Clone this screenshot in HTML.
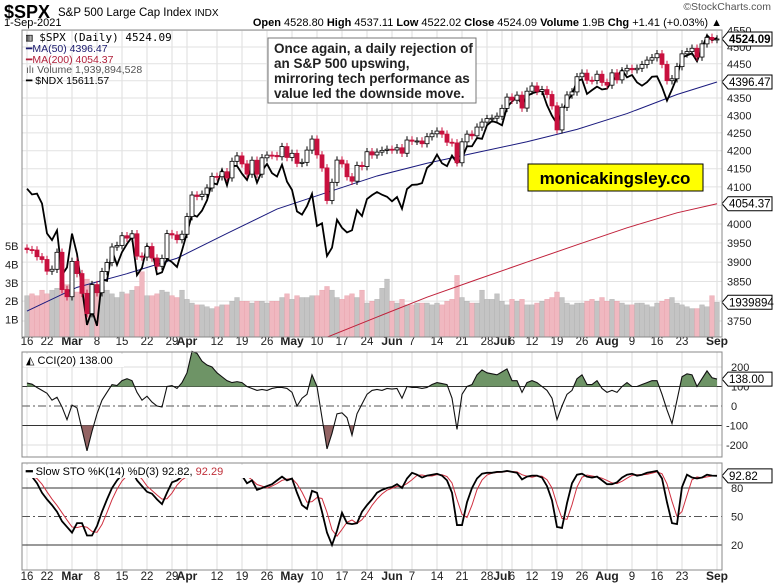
<!DOCTYPE html>
<html><head><meta charset="utf-8"><style>
body{margin:0;background:#fff}
svg{display:block;font-family:"Liberation Sans",sans-serif}
</style></head><body>
<svg id="c" width="775" height="587" viewBox="0 0 775 587" xmlns="http://www.w3.org/2000/svg">
<defs>
<clipPath id="mainClip"><rect x="22" y="30" width="700" height="307"/></clipPath>
<clipPath id="cciAbove"><rect x="22" y="352" width="700" height="34.5"/></clipPath>
<clipPath id="cciBelow"><rect x="22" y="425.5" width="700" height="32"/></clipPath>
<clipPath id="stoClip"><rect x="22" y="463" width="700" height="107"/></clipPath>
</defs>
<text x="4" y="18" font-size="18" font-weight="bold">$SPX</text>
<text x="58" y="16" font-size="11.5">S&amp;P 500 Large Cap Index <tspan font-size="10">INDX</tspan></text>
<text x="4" y="26" font-size="11">1-Sep-2021</text>
<text x="771" y="10" font-size="10.5" fill="#555" text-anchor="end">©StockCharts.com</text>
<text x="722" y="26" font-size="11" text-anchor="end"><tspan font-weight="bold">Open</tspan> 4528.80 <tspan font-weight="bold">High</tspan> 4537.11 <tspan font-weight="bold">Low</tspan> 4522.02 <tspan font-weight="bold">Close</tspan> 4524.09 <tspan font-weight="bold">Volume</tspan> 1.9B <tspan font-weight="bold">Chg</tspan> +1.41 (+0.03%) ▲</text>
<g id="grid"></g>
<g id="vol" clip-path="url(#mainClip)"></g>
<g id="price" clip-path="url(#mainClip)"></g>
<g id="cci"></g>
<g id="sto"></g>
<g id="axes"></g>
<rect x="22" y="30" width="700" height="307" fill="none" stroke="#888"/>
<rect x="22" y="352" width="700" height="105" fill="none" stroke="#888"/>
<rect x="22" y="463" width="700" height="107" fill="none" stroke="#888"/>
<g font-size="10.5">
<text x="26" y="41" font-family="'DejaVu Sans Mono','Liberation Mono',monospace" font-size="11">▥ $SPX (Daily) 4524.09</text>
<text x="26" y="52" fill="#1a1a6e">━MA(50) 4396.47</text>
<text x="26" y="63" fill="#b0203a">━MA(200) 4054.37</text>
<text x="26" y="73" fill="#555">ılı Volume 1,939,894,528</text>
<text x="26" y="84">━ $NDX 15611.57</text>
</g>
<g>
<rect x="268" y="38" width="208" height="65" fill="#fff" stroke="#777"/>
<text x="274" y="53" font-size="13.5" font-weight="bold" fill="#222">Once again, a daily rejection of</text>
<text x="274" y="68" font-size="13.5" font-weight="bold" fill="#222">an S&amp;P 500 upswing,</text>
<text x="274" y="83" font-size="13.5" font-weight="bold" fill="#222">mirroring tech performance as</text>
<text x="274" y="98" font-size="13.5" font-weight="bold" fill="#222">value led the downside move.</text>
</g>
<g>
<rect x="528" y="164" width="175" height="27" fill="#ffff00" stroke="#000"/>
<text x="615" y="184" font-size="17" font-weight="bold" text-anchor="middle">monicakingsley.co</text>
</g>
<g id="legends">
<rect x="24" y="354" width="100" height="13" fill="#fff"/>
<text x="26" y="364" font-size="11">◭ CCI(20) 138.00</text>
<rect x="24" y="465" width="226" height="13" fill="#fff"/>
<text x="26" y="475" font-size="11"><tspan font-weight="bold">━</tspan> Slow STO %K(14) %D(3) 92.82, <tspan fill="#c0303a">92.29</tspan></text>
</g>
</svg>
<script>
const closes=[3932.59,3931.33,3913.97,3906.71,3876.50,3881.37,3925.43,3829.34,3811.15,
3901.82,3870.29,3819.72,3768.47,3841.94,3821.35,3875.44,3898.81,3939.34,3943.34,3968.94,3962.71,3974.12,3915.46,3913.10,3940.59,3910.52,3889.14,3909.52,3974.54,3971.09,3958.55,3972.89,
4019.87,4077.91,4073.94,4079.95,4097.17,4128.80,4127.99,4141.59,4124.66,4170.42,4185.47,4163.26,4134.94,4173.42,4134.98,4180.17,4187.62,4186.72,4183.18,4211.47,4181.17,
4192.66,4164.66,4167.59,4201.62,4232.60,4188.43,4152.10,4063.04,4112.50,4173.85,4163.29,4127.83,4115.68,4159.12,4155.86,4197.05,4188.13,4195.99,4200.88,4204.11,
4202.04,4208.12,4192.85,4229.89,4226.52,4227.26,4219.55,4239.18,4247.44,4255.15,4246.59,4223.70,4221.86,4166.45,4224.79,4246.44,4241.84,4266.49,4280.70,4290.61,4291.80,4297.50,
4319.94,4352.34,4343.54,4358.13,4320.82,4369.55,4384.63,4369.21,4374.30,4360.03,4327.16,4258.49,4323.06,4358.69,4367.48,4411.79,4422.30,4401.46,4400.64,4419.15,4395.26,
4387.16,4423.15,4402.66,4429.10,4436.52,4432.35,4436.75,4447.70,4460.83,4468.00,4479.71,4448.08,4400.27,4405.80,4441.67,4479.53,4486.23,4496.19,4470.00,4509.37,4528.79,4522.68,4524.09];
const ndx=[13779,13713,13722,13611,13278,13205,13311,12827,12909,
13275,13054,12688,12308,12459,12299,12782,12766,13091,12936,13073,13163,13239,12826,12905,13140,13099,12836,12856,13000,12965,12914,13091,
13283,13487,13463,13531,13647,13845,13828,13996,13818,14041,14042,13951,13879,14035,13848,13986,14064,13958,13918,14056,13860,
13765,13522,13486,13582,13720,13359,13389,13032,13121,13429,13340,13288,13312,13536,13470,13661,13705,13741,13710,13687,
13636,13684,13552,13775,13822,13826,13842,14018,14069,14174,14072,14039,14162,14074,14128,14271,14272,14370,14360,14522,14573,14554,
14522,14740,14810,14866,14773,14877,14912,14929,14945,14766,14637,14541,14689,14809,14896,15062,15086,14904,14951,14995,14959,
14969,15069,15124,15204,15110,15140,15048,15006,15049,15118,15123,14990,14822,14960,15115,15362,15387,15415,15313,15475,15647,15582,15611];
const volumes=[2.3,2.4,2.3,2.6,2.4,2.6,2.7,3.0,2.9,
2.6,2.5,2.9,3.2,3.0,2.7,2.8,2.6,2.4,2.2,2.5,2.4,2.6,2.8,3.6,2.3,2.3,2.4,2.6,2.5,2.3,2.2,2.6,
2.1,1.9,1.8,1.8,1.7,1.6,1.7,1.8,1.8,2.0,2.2,2.0,2.0,1.9,2.0,2.0,1.9,2.0,2.0,2.2,2.4,
2.1,2.3,2.2,2.2,2.3,2.3,2.6,2.8,2.6,2.2,2.1,2.3,2.4,2.2,2.6,1.9,2.0,2.1,2.7,3.2,
2.0,1.9,2.1,1.8,1.8,1.9,1.9,1.9,1.8,1.9,1.8,2.0,2.1,3.4,2.2,2.0,1.9,1.9,2.6,2.1,2.1,2.4,
2.0,1.8,2.1,2.0,2.1,1.8,1.8,1.9,2.0,2.1,2.2,2.5,2.2,1.9,1.8,1.9,1.9,2.0,2.1,2.0,2.2,
2.0,2.1,2.0,1.9,1.8,1.8,1.9,1.9,1.8,1.7,1.9,2.0,2.1,2.2,1.9,1.8,1.7,1.6,1.6,1.8,1.7,2.3,1.94];
const cci=[118,112,95,80,65,30,45,-5,-70,
5,-10,-120,-230,-130,-40,30,70,110,105,130,140,130,70,30,50,20,0,-5,100,105,90,120,
170,280,270,230,210,200,170,150,130,120,125,120,100,90,80,85,80,90,95,95,90,
70,0,40,60,160,100,-60,-220,-140,-40,-35,-60,-150,-40,10,60,80,85,80,90,
87,90,40,100,95,95,90,95,110,120,115,110,40,-120,60,100,110,160,185,170,165,160,
175,190,130,130,70,120,130,120,100,80,40,-70,0,60,80,140,160,110,110,130,90,
70,80,70,100,120,100,100,110,120,130,130,60,-20,-90,30,150,165,160,100,140,180,145,138];
const stoK=[93,92,85,75,68,62,55,45,39,
33,43,43,30,30,40,55,68,80,88,94,97,98,88,82,76,74,68,63,75,86,88,92,
96,99,98,97,98,100,99,99,95,98,99,93,85,88,78,80,82,84,88,92,88,
90,75,62,58,77,75,55,33,20,35,54,43,42,43,55,62,68,75,78,80,
81,84,80,90,96,94,91,93,94,95,93,88,75,41,41,65,80,90,95,96,96,97,
97,98,97,96,89,92,93,93,91,82,67,39,38,64,85,94,95,92,91,92,88,
84,84,86,91,94,95,93,94,96,97,98,90,65,43,42,81,94,91,90,91,94,93,92.82];
const ma50Idx=[0,10,20,30,40,50,60,70,80,90,100,110,120,130,138];
const ma50Val=[3775,3835,3870,3910,3975,4040,4085,4130,4165,4195,4225,4260,4305,4360,4396.47];
const ma200Idx=[58,70,80,90,100,110,120,130,138];
const ma200Val=[3700,3760,3810,3855,3900,3945,3990,4030,4054.37];
const priceTicks=[3750,3800,3850,3900,3950,4000,4050,4100,4150,4200,4250,4300,4350,4400,4450,4500,4550];
const volTicks=[1,2,3,4,5];
const cciTicks=[200,100,0,-100,-200];
const stoTicks=[80,50,20];
const dateLabels=["16","22","Mar","8","15","22","29","Apr","12","19","26","May","10","17","24","Jun","7","14","21","28","Jul","6","12","19","26","Aug","9","16","23","Sep"];
const dateIdx=[0,4,9,14,19,24,29,32,38,43,48,53,58,63,68,73,77,82,87,92,95,97,101,106,111,116,121,126,131,138];

const NS="http://www.w3.org/2000/svg";
const xi=i=>27+i*5.0;
const yP=p=>47+(Math.log(4500)-Math.log(p))*1503;
const yN=n=>38+(Math.log(15611)-Math.log(n))*1207;
const yV=v=>338-v*18.4;
const yC=c=>406-c*0.195;
const yS=s=>545-(s-20)*0.95;
function mk(parent,tag,attrs){const e=document.createElementNS(NS,tag);for(const k in attrs)e.setAttribute(k,attrs[k]);document.getElementById(parent).appendChild(e);return e;}

dateIdx.forEach((d,j)=>{
  [[30,337],[352,457],[463,570]].forEach(r=>{
    const l=mk('grid','line',{x1:xi(d),x2:xi(d),y1:r[0],y2:r[1],stroke:'#ddd'});
    
    
  });
  [345,580].forEach(y=>{
    const bold=isNaN(+dateLabels[j]);
    const t=mk('axes','text',{x:xi(d),y:y,'font-size':bold?12:11.5,'font-weight':bold?'bold':'normal','text-anchor':'middle',fill:'#222'});
    t.textContent=dateLabels[j];
    
    
  });
});
priceTicks.forEach(p=>{
  const l=mk('grid','line',{x1:22,x2:722,y1:yP(p),y2:yP(p),stroke:'#e2e2e2'});
  
  
  const t=mk('axes','text',{x:727,y:yP(p)+4,'font-size':11,fill:'#222'});
  t.textContent=p;
  
  
});
volTicks.forEach(v=>{
  const t=mk('axes','text',{x:5,y:yV(v)+4,'font-size':11,fill:'#222'});
  t.textContent=v+'B';
  
  
});
cciTicks.forEach(c=>{
  const l=mk('grid','line',{x1:22,x2:722,y1:yC(c),y2:yC(c),stroke:(c===100||c===-100)?'#333':(c===0?'#555':'#ddd'),'stroke-dasharray':c===0?'8,3,2,3':'none'});
  
  
  const t=mk('axes','text',{x:c<0?726:731,y:yC(c)+4,'font-size':11,fill:'#222'});
  t.textContent=c;
  
  
});
stoTicks.forEach(s=>{
  const l=mk('grid','line',{x1:22,x2:722,y1:yS(s),y2:yS(s),stroke:s===50?'#555':'#333','stroke-dasharray':s===50?'8,3,2,3':'none'});
  
  
  const t=mk('axes','text',{x:731,y:yS(s)+4,'font-size':11,fill:'#222'});
  t.textContent=s;
  
  
});

volumes.forEach((v,i)=>{
  const down=i>0&&closes[i]<closes[i-1];
  const r=mk('vol','rect',{x:xi(i)-2.4,y:yV(v),width:4.8,height:338-yV(v),fill:down?'#f0b8c0':'#c4c4c4',stroke:down?'#e8a0aa':'#b0b0b0','stroke-width':0.4});
  
  
});
function pl(parent,idx,vals,yf,color,w,name){
  const pts=idx.map((d,k)=>xi(d)+','+yf(vals[k])).join(' ');
  const p=mk(parent,'polyline',{points:pts,fill:'none',stroke:color,'stroke-width':w});
  
  
  return p;
}
pl('price',ma200Idx,ma200Val,yP,'#c0203a',1,'ma200-line');
pl('price',ma50Idx,ma50Val,yP,'#1a1a7e',1,'ma50-line');
const allIdx=closes.map((_,i)=>i);
pl('price',allIdx,ndx,yN,'#000',1.8,'ndx-line');
closes.forEach((c,i)=>{
  const o=i>0?closes[i-1]:c*1.001;
  const hi=Math.max(o,c)*1.0025, lo=Math.min(o,c)*0.9975;
  const down=c<o;
  const col=down?'#c8103e':'#000';
  const w=mk('price','line',{x1:xi(i),x2:xi(i),y1:yP(hi),y2:yP(lo),stroke:col,'stroke-width':1});
  
  
  const top=yP(Math.max(o,c)), bot=yP(Math.min(o,c));
  const b=mk('price','rect',{x:xi(i)-2,y:top,width:4,height:Math.max(1,bot-top),fill:down?'#c8103e':'#fff',stroke:col,'stroke-width':0.8});
  
  
});
const cciPts=cci.map((c,i)=>xi(i)+','+yC(c)).join(' ');
const fa=mk('cci','polygon',{points:xi(0)+','+yC(100)+' '+cciPts+' '+xi(cci.length-1)+','+yC(100),fill:'#6e9466','clip-path':'url(#cciAbove)'});


const fb=mk('cci','polygon',{points:xi(0)+','+yC(-100)+' '+cciPts+' '+xi(cci.length-1)+','+yC(-100),fill:'#936464','clip-path':'url(#cciBelow)'});


pl('cci',allIdx,cci,yC,'#111',1.1,'cci-line');
const stoD=stoK.map((k,i)=>{const a=stoK.slice(Math.max(0,i-2),i+1);return a.reduce((s,v)=>s+v,0)/a.length;});
const dl=pl('sto',allIdx,stoD,yS,'#d03040',1,'sto-d-line');dl.setAttribute('clip-path','url(#stoClip)');
const kl=pl('sto',allIdx,stoK,yS,'#000',1.8,'sto-k-line');kl.setAttribute('clip-path','url(#stoClip)');
function tag(y,txt,name,bold){
  const g=mk('axes','g',{});
  
  
  const p=document.createElementNS(NS,'path');
  p.setAttribute('d',`M722 ${y} L728 ${y-7} L772 ${y-7} L772 ${y+7} L728 ${y+7} Z`);
  p.setAttribute('fill','#fff');p.setAttribute('stroke','#000');
  g.appendChild(p);
  const t=document.createElementNS(NS,'text');
  t.setAttribute('x',729);t.setAttribute('y',y+4);t.setAttribute('font-size',11.5);
  if(bold)t.setAttribute('font-weight','bold');
  t.textContent=txt;g.appendChild(t);
}
tag(yP(closes[closes.length-1]),closes[closes.length-1].toFixed(2),'last-price-tag',true);
tag(yP(ma50Val[ma50Val.length-1]),ma50Val[ma50Val.length-1].toFixed(2),'ma50-value-tag',false);
tag(yP(ma200Val[ma200Val.length-1]),ma200Val[ma200Val.length-1].toFixed(2),'ma200-value-tag',false);
tag(yV(volumes[volumes.length-1]),'1939894','volume-value-tag',false);
tag(yC(cci[cci.length-1]),cci[cci.length-1].toFixed(2),'cci-value-tag',false);
tag(yS(stoK[stoK.length-1]),stoK[stoK.length-1].toFixed(2),'sto-value-tag',false);
document.getElementById('c').appendChild(document.getElementById('legends'));
</script>
</body></html>
